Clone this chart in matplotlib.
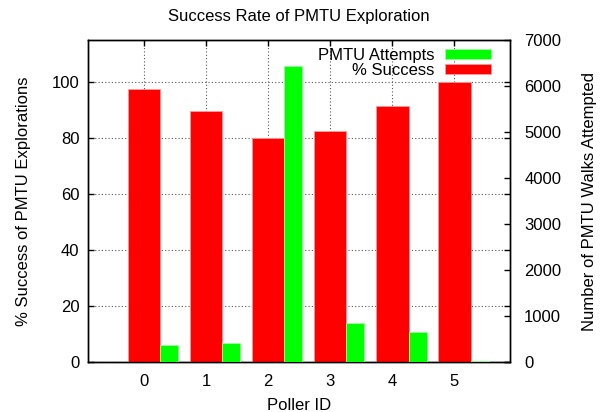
import matplotlib
matplotlib.use("Agg")
import matplotlib.pyplot as plt
import numpy as np

plt.rcParams['font.family'] = ['Liberation Sans', 'DejaVu Sans']

pollers = [0, 1, 2, 3, 4, 5]
success = [97.4, 89.7, 80.1, 82.6, 91.4, 100.0]
attempts = [370, 414, 6447, 849, 640, 20]

fig = plt.figure(figsize=(6.04, 4.12), dpi=100)
# axes box placed in pixels to match the reference
ax = fig.add_axes([88.3 / 604, 1 - 361.7 / 412, 422 / 604, 321.4 / 412])
ax2 = ax.twinx()

x = np.array(pollers)
ax.bar(x, success, width=0.52, color='#ff0000', edgecolor='#ff9a9a', linewidth=0.6,
       label='% Success', zorder=3)
ax2.bar(x + 0.26, attempts, width=0.29, align='edge', color='#00ff00', edgecolor='#9aff9a',
        linewidth=0.6, label='PMTU Attempts', zorder=3)

ax.set_xlim(-0.9, 5.9)
ax.set_ylim(0, 115)
ax2.set_ylim(0, 7000)
ax.set_xticks(pollers)
ax.set_yticks(range(0, 101, 20))
ax2.set_yticks(range(0, 7001, 1000))

ax.grid(True, linestyle=(0, (1, 2)), color='#555555', linewidth=0.8, zorder=0)
ax.set_axisbelow(True)

ax.tick_params(axis='both', direction='in', labelsize=12, length=4, width=1,
               top=True, right=True)
ax.tick_params(axis='y', pad=6.5)
ax.tick_params(axis='x', pad=9)
ax2.tick_params(axis='y', direction='in', labelsize=12, length=4, width=1, pad=10)
for a in (ax, ax2):
    for s in a.spines.values():
        s.set_linewidth(1.0)

ax.set_title('Success Rate of PMTU Exploration', fontsize=12, pad=14)
ax.set_xlabel('Poller ID', fontsize=12, labelpad=6)
ax.set_ylabel('% Success of PMTU Explorations', fontsize=12, labelpad=15)
ax2.set_ylabel('Number of PMTU Walks Attempted', fontsize=12, labelpad=15)

h1, l1 = ax.get_legend_handles_labels()
h2, l2 = ax2.get_legend_handles_labels()
ax2.legend(h2 + h1, l2 + l1, loc='upper right', frameon=False, markerfirst=False,
           bbox_to_anchor=((491.3 - 88.3) / 422, 1 - 8 / 321.4),
           fontsize=12, handlelength=2.8, handleheight=0.55, labelspacing=0.0,
           borderaxespad=0, borderpad=0, handletextpad=0.6)

fig.savefig('out.png', dpi=100)
